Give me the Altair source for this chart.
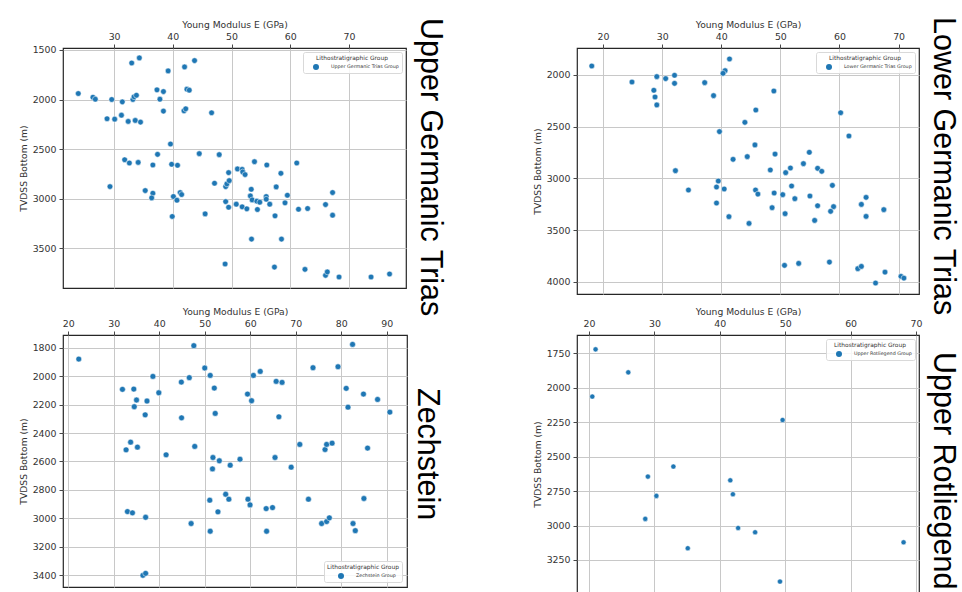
import altair as alt
import pandas as pd

# ---------------- data ----------------
# Upper Germanic Trias
ugt_E = [23.9, 26.4, 26.8, 29.6, 28.8, 30.1, 31.25, 31.4, 33.0, 34.3, 33.2, 33.4, 33.8,
         32.4, 33.6, 34.5, 37.3, 38.4, 37.8, 38.4, 39.2, 42.0, 43.7, 42.4, 42.8, 41.9,
         42.2, 46.6, 39.6, 44.5, 47.9, 37.4, 31.8, 32.6, 34.1, 36.6, 39.8, 40.8, 29.3,
         35.3, 36.6, 36.4, 40.1, 40.7, 41.25, 41.5, 39.9, 45.5, 47.1, 49.0, 49.2, 49.6,
         49.5, 51.0, 51.8, 51.9, 52.3, 53.9, 56.0, 58.4, 61.1, 57.6, 53.35, 53.2, 53.5,
         54.3, 54.8, 55.9, 55.9, 56.5, 49.0, 49.5, 50.8, 51.8, 52.6, 54.4, 57.4, 59.1,
         59.5, 61.4, 62.95, 66.0, 67.2, 67.2, 53.4, 58.5, 48.9, 57.3, 62.5, 66.0, 66.3,
         68.3, 73.75, 76.9]
ugt_tvdss = [1939, 1976, 1996, 1999, 2193, 2197, 2157, 2023, 1631, 1580, 1999, 1972, 1956,
             2220, 2210, 2227, 1902, 1919, 1996, 2116, 1711, 1671, 1607, 1895, 1905, 2113,
             2093, 2133, 2448, 2545, 2555, 2552, 2606, 2639, 2633, 2659, 2652, 2662, 2877,
             2917, 2944, 2991, 2977, 3014, 2937, 2957, 3178, 3152, 2843, 2877, 2850, 2817,
             2736, 2699, 2703, 2729, 2756, 2626, 2659, 2743, 2639, 2880, 2904, 2971, 3011,
             3024, 3034, 2977, 3004, 3054, 3028, 3085, 3054, 3081, 3101, 3108, 3172, 3041,
             2964, 3105, 3098, 3058, 2937, 3165, 3406, 3406, 3657, 3688, 3711, 3771, 3737,
             3788, 3788, 3758]

# Lower Germanic Trias
lgt_E = [18.1, 24.9, 29.1, 30.6, 32.1, 32.1, 28.6, 28.8, 29.1, 37.2, 38.7, 41.4, 40.65,
         40.3, 48.9, 45.85, 44.0, 39.7, 60.2, 61.6, 45.7, 44.4, 42.0, 49.1, 54.9, 53.9,
         51.7, 50.9, 48.3, 56.3, 57.0, 32.25, 39.5, 39.2, 40.5, 34.45, 39.2, 41.3, 44.7,
         45.8, 46.2, 48.95, 50.4, 51.9, 52.45, 48.6, 50.8, 55.0, 56.3, 55.8, 58.8, 59.0,
         58.5, 63.7, 64.5, 64.5, 67.5, 50.7, 53.1, 58.3, 63.1, 63.7, 67.7, 66.1, 70.4, 70.9]
lgt_tvdss = [1913, 2068, 2016, 2035, 2003, 2081, 2148, 2213, 2290, 2074, 2200, 1845, 1958,
             1984, 2155, 2339, 2458, 2548, 2365, 2590, 2677, 2790, 2816, 2765, 2748, 2858,
             2900, 2945, 2919, 2903, 2932, 2926, 3026, 3084, 3103, 3113, 3239, 3371, 3436,
             3113, 3152, 3142, 3158, 3074, 3197, 3284, 3342, 3171, 3265, 3407, 3068, 3274,
             3319, 3252, 3184, 3368, 3303, 3842, 3823, 3810, 3874, 3852, 3907, 4013, 3948, 3965]

# Zechstein
zech_E = [22.3, 31.9, 34.4, 35.0, 34.5, 37.3, 36.9, 38.6, 39.9, 44.85, 46.6, 44.9, 47.6,
          50.0, 51.2, 52.1, 52.3, 33.7, 32.7, 35.2, 41.5, 47.8, 51.8, 51.7, 53.2, 55.6,
          57.75, 59.4, 60.3, 60.7, 62.2, 65.7, 67.0, 66.3, 65.45, 69.0, 70.9, 73.8, 79.3,
          82.5, 81.1, 81.5, 84.9, 88.0, 90.7, 76.45, 76.8, 78.0, 85.8, 33.0, 34.1, 37.0,
          47.0, 51.1, 54.6, 55.3, 52.9, 51.2, 59.5, 59.96, 63.5, 64.9, 63.6, 72.8, 75.7,
          76.8, 77.4, 82.6, 83.1, 85.0, 36.4, 37.0]
zech_tvdss = [1880, 2093, 2091, 2168, 2215, 2175, 2272, 2002, 2117, 2042, 2011, 2293, 1786,
              1943, 1995, 2084, 2262, 2464, 2518, 2499, 2553, 2494, 2572, 2652, 2595, 2626,
              2584, 2126, 2173, 1995, 1967, 2037, 2044, 2286, 2572, 2640, 2480, 1941, 1934,
              1777, 2086, 2218, 2126, 2164, 2253, 2516, 2480, 2471, 2506, 2952, 2961, 2992,
              3036, 2872, 2830, 2865, 2954, 3090, 2865, 2905, 2931, 2924, 3090, 2865, 3036,
              3022, 2996, 3036, 3086, 2860, 3400, 3386]

# Upper Rotliegend
url_E = [21.0, 26.0, 20.5, 49.6, 32.9, 29.0, 30.3, 28.6, 41.6, 42.0, 42.8, 45.4, 35.1, 68.1, 49.2]
url_tvdss = [1721, 1888, 2064, 2234, 2572, 2645, 2785, 2952, 2672, 2773, 3018, 3049, 3165, 3122, 3407]

# tick values
ugt_xticks = [30, 40, 50, 60, 70]
ugt_yticks = [1500, 2000, 2500, 3000, 3500]
lgt_xticks = [20, 30, 40, 50, 60, 70]
lgt_yticks = [2000, 2500, 3000, 3500, 4000]
zech_xticks = [20, 30, 40, 50, 60, 70, 80, 90]
zech_yticks = [1800, 2000, 2200, 2400, 2600, 2800, 3000, 3200, 3400]
url_xticks = [20, 30, 40, 50, 60, 70]
url_yticks = [1750, 2000, 2250, 2500, 2750, 3000, 3250]

FONT = "DejaVu Sans"
BIG = "Liberation Sans"
BLUE = "#1f77b4"
INK = "#333333"


def panel(E, d, group, big, xdom, ydom, xticks, yticks, w, h,
          lorient, loffset, size, tdx, toff):
    df = pd.DataFrame({"E": E, "TVDSS": d, "group": group})
    return alt.Chart(df).mark_circle(
        size=size, opacity=1, stroke="white", strokeWidth=0.5
    ).encode(
        x=alt.X("E:Q",
                scale=alt.Scale(domain=xdom, nice=False, zero=False),
                axis=alt.Axis(orient="top", values=xticks, format="d",
                              title="Young Modulus E (GPa)", titlePadding=2)),
        y=alt.Y("TVDSS:Q",
                scale=alt.Scale(domain=ydom, reverse=True, nice=False, zero=False),
                axis=alt.Axis(values=yticks, format="d",
                              title="TVDSS Bottom (m)", titlePadding=4)),
        color=alt.Color("group:N", scale=alt.Scale(range=[BLUE]),
                        legend=alt.Legend(title="Lithostratigraphic Group",
                                          orient=lorient, offset=loffset)),
    ).properties(
        width=w, height=h,
        title=alt.TitleParams(text=big, orient="right", anchor="start", frame="group",
                              font=BIG, fontSize=30.5, fontWeight="normal",
                              color="black", dx=tdx, offset=toff),
    )


p1 = panel(ugt_E, ugt_tvdss, "Upper Germanic Trias Group", "Upper Germanic Trias",
           [21.3, 79.7], [1480, 3899], ugt_xticks, ugt_yticks, 343, 240,
           "top-right", 4, 32, -30, 8)
p2 = panel(lgt_E, lgt_tvdss, "Lower Germanic Trias Group", "Lower Germanic Trias",
           [15.6, 73.45], [1739, 4119], lgt_xticks, lgt_yticks, 342, 246,
           "top-right", 4, 32, -31, 8)
p3 = panel(zech_E, zech_tvdss, "Zechstein Group", "Zechstein",
           [18.83, 94.47], [1711, 3482], zech_xticks, zech_yticks, 344, 252,
           "bottom-right", 5, 34, 53, 4)
p4 = panel(url_E, url_tvdss, "Upper Rotliegend Group", "Upper Rotliegend",
           [18.16, 70.46], [1617, 3490], url_xticks, url_yticks, 342, 258,
           "top-right", 4, 26, 17, 6)

chart = alt.concat(
    p1, p2, p3, p4, columns=2,
    spacing={"row": 41, "column": 170},
).properties(
    align="each", bounds="flush",
    autosize=alt.AutoSizeParams(type="none"),
    padding={"left": 63, "top": 48, "right": 899, "bottom": 544},
    background="white",
).resolve_scale(
    x="independent", y="independent", color="independent"
).resolve_legend(
    color="independent"
).configure_view(
    stroke="#262626", strokeWidth=1.2
).configure_axis(
    labelFont=FONT, labelFontSize=9.4, labelColor=INK, labelPadding=3,
    labelFlush=False,
    titleFont=FONT, titleFontSize=9.2, titleFontWeight="normal", titleColor=INK,
    tickColor=INK, tickSize=4, tickWidth=0.9,
    domain=False,
    gridColor="#c8c8c8", gridWidth=1,
).configure_legend(
    titleFont=FONT, titleFontSize=5.9, titleFontWeight="normal", titleColor=INK,
    titleAnchor="middle", titlePadding=3,
    labelFont=FONT, labelFontSize=4.8, labelColor=INK,
    labelOffset=12, symbolOffset=7, symbolSize=36, symbolStrokeWidth=0,
    padding=3, strokeColor="#d9d9d9", fillColor="rgba(255,255,255,0.85)",
    cornerRadius=2,
)

chart.save("out.html", embed_options={"renderer": "svg", "actions": False})
